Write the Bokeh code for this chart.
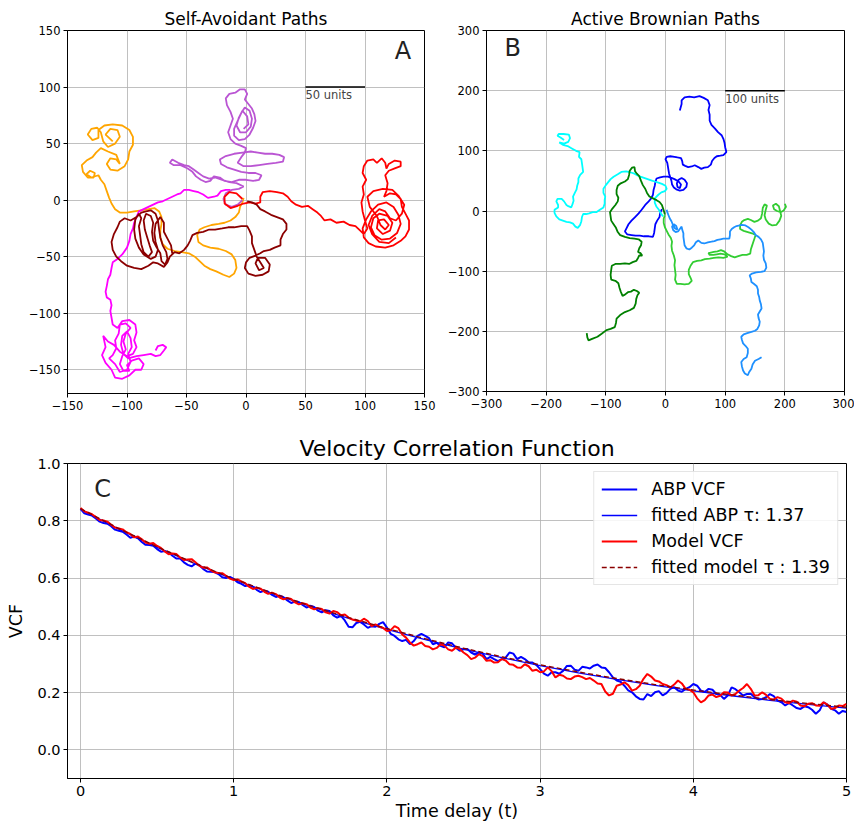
import numpy as np
from bokeh.plotting import figure
from bokeh.layouts import column, row
from bokeh.models import Label, Range1d, FixedTicker, Legend, LegendItem, CustomJSTickFormatter
from bokeh.embed import file_html
from bokeh.resources import INLINE

# ---------------- Panel A: Self-Avoidant Paths ----------------
SA_ORANGE = [(-112,52),(-118,58),(-114,63),(-108,62),(-106,56),(-110,50),(-116,47),(-120,52),(-122,60),(-125,64),(-130,63),(-133,58),(-129,53),(-124,55),(-124,62),(-119,66),(-112,67),(-104,66),(-98,62),(-95,56),(-95,49),(-98,43),(-99,36),(-102,30),(-108,26),(-114,27),(-117,32),(-114,37),(-109,36),(-106,32),(-109,40),(-116,43),(-122,46),(-126,42),(-129,38),(-134,35),(-138,31),(-137,25),(-133,20),(-128,20),(-127,24),(-131,26),(-134,23),(-130,20),(-124,22),(-122,18),(-119,14),(-117,8),(-115,2),(-113,-3),(-110,-8),(-106,-11),(-100,-11),(-94,-10),(-88,-9),(-82,-8),(-77,-7),(-73,-10),(-71,-15),(-71,-21),(-72,-27),(-72,-33),(-70,-39),(-66,-43),(-60,-45),(-54,-46),(-48,-47),(-43,-50),(-39,-54),(-35,-58),(-30,-61),(-25,-63),(-19,-66),(-14,-68),(-10,-65),(-8,-60),(-9,-53),(-12,-48),(-17,-45),(-23,-43),(-30,-42),(-36,-40),(-40,-37),(-41,-31),(-39,-26),(-35,-24),(-29,-22),(-23,-21),(-18,-20),(-13,-18),(-9,-15),(-6,-11),(-5,-6),(-3,-2),(-2,2)]
SA_MAGENTA = [(-13,9),(-17,9),(-21,8),(-24,4),(-27,3),(-32,2),(-36,5),(-40,7),(-44,8),(-48,9),(-52,9),(-55,6),(-58,5),(-62,3),(-66,1),(-70,-1),(-74,-2),(-78,-4),(-82,-6),(-86,-8),(-90,-10),(-92,-15),(-94,-20),(-95,-25),(-97,-30),(-98,-36),(-100,-42),(-104,-48),(-108,-52),(-112,-55),(-113,-60),(-114,-66),(-116,-70),(-117,-76),(-118,-81),(-117,-86),(-114,-88),(-113,-93),(-114,-98),(-113,-104),(-112,-110),(-108,-113),(-104,-107),(-98,-106),(-93,-110),(-92,-117),(-94,-124),(-92,-130),(-95,-136),(-100,-138),(-106,-134),(-111,-128),(-116,-125),(-120,-120),(-118,-130),(-121,-137),(-118,-144),(-113,-150),(-110,-157),(-104,-158),(-98,-155),(-93,-150),(-88,-150),(-86,-145),(-90,-140),(-96,-142),(-100,-146),(-98,-151),(-103,-151),(-106,-145),(-104,-138),(-101,-132),(-103,-125),(-101,-118),(-97,-113),(-101,-109),(-106,-110),(-107,-118),(-110,-124),(-109,-131),(-112,-137),(-115,-140),(-110,-145),(-106,-152),(-100,-150),(-97,-143),(-99,-136),(-96,-130),(-97,-122),(-100,-116),(-104,-120),(-105,-128),(-103,-136),(-99,-140),(-92,-138),(-86,-137),(-80,-136),(-76,-138),(-72,-137),(-69,-133),(-67,-130),(-70,-128),(-74,-129),(-76,-133)]
SA_ORCHID = [(-3,0),(-7,-4),(-12,-6),(-17,-4),(-19,1),(-17,6),(-12,9),(-6,10),(-2,12),(-8,15),(-14,16),(-20,18),(-26,20),(-31,19),(-36,21),(-40,24),(-44,27),(-48,30),(-52,31),(-57,33),(-62,36),(-64,33),(-61,31),(-55,31),(-49,28),(-45,25),(-42,21),(-38,18),(-34,16),(-30,17),(-27,21),(-22,20),(-18,17),(-12,16),(-6,18),(0,18),(6,17),(11,18),(13,22),(8,24),(2,24),(-4,25),(-10,27),(-16,29),(-21,32),(-22,36),(-17,39),(-10,41),(-3,42),(4,43),(10,42),(16,41),(22,41),(28,40),(32,38),(31,34),(25,33),(18,32),(11,31),(4,30),(-2,30),(-7,33),(-4,38),(-1,42),(0,46),(-4,48),(-9,50),(-13,54),(-15,60),(-13,66),(-11,72),(-13,78),(-16,84),(-17,90),(-14,94),(-9,95),(-5,98),(-1,98),(1,94),(-1,89),(2,85),(5,81),(7,76),(8,70),(6,64),(3,58),(-1,54),(-6,53),(-10,57),(-10,63),(-7,70),(-4,77),(-1,82),(3,79),(5,72),(4,65),(0,60),(-5,60),(-8,66),(-6,73),(-3,79),(1,74),(2,67),(-2,63)]
SA_RED = [(-3,1),(-8,6),(-14,7),(-18,3),(-18,-3),(-13,-7),(-7,-5),(-2,-3),(3,-2),(8,-3),(12,-2),(12,3),(14,7),(20,8),(26,7),(31,6),(35,3),(38,-1),(42,-4),(47,-6),(52,-5),(56,-8),(60,-11),(63,-14),(66,-18),(71,-17),(76,-20),(82,-19),(87,-22),(92,-23),(96,-27),(99,-30),(102,-25),(100,-18),(98,-10),(97,-2),(99,5),(98,12),(101,18),(98,24),(99,30),(102,35),(107,36),(110,33),(114,37),(117,33),(118,28),(120,32),(125,35),(130,34),(130,30),(125,28),(120,26),(117,22),(119,15),(118,8),(116,3),(121,6),(126,5),(130,1),(131,-6),(134,-12),(137,-18),(137,-26),(134,-32),(130,-36),(124,-40),(117,-42),(109,-41),(103,-38),(99,-33),(98,-25),(101,-17),(105,-10),(111,-4),(118,-2),(124,-6),(128,-13),(130,-21),(127,-29),(121,-34),(114,-35),(108,-31),(105,-24),(107,-16),(112,-12),(119,-14),(123,-20),(121,-27),(115,-30),(110,-25),(111,-18),(116,-17),(120,-22),(117,-26),(113,-22),(110,-14),(104,-6),(102,3),(107,8),(115,10),(123,9),(128,4),(133,-4),(131,-12),(126,-18),(121,-16),(117,-10),(112,-8),(106,-14),(103,-22),(106,-30),(112,-37),(120,-38),(126,-33)]
SA_DARKRED = [(1,-1),(5,-2),(9,-4),(12,-8),(16,-10),(21,-13),(26,-15),(31,-17),(34,-21),(34,-26),(31,-30),(29,-35),(29,-40),(24,-42),(20,-44),(15,-45),(12,-47),(8,-49),(3,-51),(0,-55),(-1,-60),(2,-65),(8,-67),(14,-66),(19,-63),(20,-57),(16,-51),(10,-51),(8,-56),(11,-62),(15,-60),(12,-55),(9,-50),(7,-44),(5,-38),(5,-32),(3,-27),(1,-23),(-4,-23),(-10,-24),(-15,-24),(-20,-25),(-26,-26),(-31,-26),(-36,-28),(-41,-29),(-45,-31),(-47,-36),(-49,-40),(-52,-44),(-56,-47),(-60,-46),(-64,-50),(-66,-55),(-69,-59),(-74,-56),(-78,-55),(-82,-58),(-88,-61),(-94,-60),(-100,-58),(-105,-54),(-109,-50),(-112,-44),(-113,-37),(-111,-30),(-108,-24),(-106,-19),(-102,-16),(-97,-18),(-92,-15),(-88,-11),(-84,-10),(-80,-9),(-76,-12),(-74,-18),(-73,-26),(-72,-33),(-70,-40),(-67,-46),(-66,-52),(-68,-57),(-71,-54),(-72,-47),(-75,-42),(-78,-36),(-79,-28),(-78,-20),(-80,-14),(-84,-12),(-86,-18),(-85,-26),(-83,-33),(-81,-40),(-79,-46),(-82,-50),(-86,-46),(-88,-39),(-89,-31),(-90,-23),(-88,-16),(-90,-12),(-93,-17),(-94,-26),(-93,-34),(-90,-42),(-86,-48),(-80,-52),(-76,-50),(-74,-44),(-76,-37),(-77,-29),(-76,-21),(-72,-15),(-69,-20),(-69,-28),(-66,-34),(-63,-40),(-62,-47)]
SA_PATHS = [(SA_ORANGE, "orange"), (SA_MAGENTA, "magenta"), (SA_ORCHID, "mediumorchid"),
            (SA_RED, "red"), (SA_DARKRED, "darkred")]
SA_TICKS = [-150, -100, -50, 0, 50, 100, 150]
SA_SCALE_X = [50, 100]
SA_SCALE_Y = [100, 100]

# ---------------- Panel B: Active Brownian Paths ----------------
AB_BLUE = [(24,167),(27,178),(27,184),(32,189),(40,190),(48,189),(57,191),(64,188),(71,184),(74,176),(72,168),(74,160),(74,150),(77,143),(83,137),(88,131),(94,126),(97,120),(99,113),(100,106),(102,98),(97,93),(92,92),(86,91),(82,88),(78,83),(76,77),(71,73),(65,72),(60,70),(55,73),(49,76),(44,74),(38,73),(33,75),(29,77),(28,83),(26,88),(20,89),(15,90),(8,91),(2,90),(0,86),(3,80),(4,74),(5,68),(6,62),(8,56),(10,50),(11,44),(14,39),(18,36),(24,34),(30,35),(35,40),(36,46),(32,52),(27,55),(22,52),(19,46),(20,40),(24,38),(26,44),(22,49),(15,53),(10,55),(4,57),(-3,57),(-9,56),(-15,54),(-17,48),(-18,42),(-20,35),(-21,27),(-24,21),(-29,15),(-34,10),(-40,2),(-45,-4),(-51,-10),(-57,-16),(-62,-22),(-65,-28),(-68,-34),(-64,-39),(-57,-40),(-50,-41),(-43,-41),(-36,-42),(-28,-42),(-21,-43),(-19,-36),(-18,-29),(-17,-22),(-14,-16),(-10,-10),(-9,-3),(-6,3)]
AB_CYAN = [(-170,118),(-176,122),(-181,125),(-179,128),(-171,128),(-162,127),(-160,121),(-163,115),(-170,112),(-178,114),(-172,110),(-164,108),(-157,104),(-150,100),(-144,98),(-145,90),(-141,86),(-140,79),(-139,72),(-138,65),(-143,60),(-146,54),(-146,48),(-148,42),(-149,36),(-152,30),(-155,24),(-154,17),(-156,11),(-158,6),(-163,8),(-166,10),(-170,16),(-174,20),(-181,20),(-183,16),(-180,10),(-180,6),(-186,2),(-186,-3),(-183,-9),(-178,-14),(-172,-16),(-166,-18),(-160,-19),(-155,-21),(-151,-26),(-147,-28),(-143,-23),(-141,-17),(-140,-10),(-138,-5),(-133,-5),(-128,-4),(-122,-2),(-116,-2),(-110,2),(-104,6),(-102,12),(-102,18),(-101,24),(-104,30),(-104,37),(-100,43),(-96,48),(-92,53),(-87,57),(-80,61),(-74,65),(-66,66),(-58,64),(-52,62),(-47,59),(-42,57),(-36,55),(-30,53),(-24,51),(-18,49),(-12,47),(-6,45),(0,42),(2,37),(-1,33),(-7,31),(-12,27),(-18,21),(-18,14),(-15,7),(-11,2),(-8,-4),(-4,-9)]
AB_GREEN = [(-132,-203),(-131,-210),(-129,-215),(-122,-212),(-114,-209),(-107,-204),(-99,-198),(-92,-196),(-85,-193),(-83,-186),(-82,-179),(-76,-173),(-68,-168),(-60,-165),(-53,-161),(-50,-154),(-49,-146),(-47,-140),(-44,-136),(-48,-133),(-53,-131),(-58,-134),(-63,-135),(-68,-139),(-72,-141),(-75,-134),(-77,-128),(-79,-120),(-84,-116),(-91,-114),(-92,-106),(-91,-98),(-90,-91),(-84,-88),(-76,-88),(-68,-87),(-61,-88),(-55,-85),(-49,-83),(-46,-78),(-44,-74),(-39,-74),(-42,-70),(-46,-68),(-44,-62),(-41,-57),(-40,-51),(-45,-47),(-52,-46),(-60,-45),(-68,-43),(-76,-40),(-80,-35),(-83,-28),(-87,-22),(-91,-16),(-92,-9),(-93,-2),(-89,4),(-84,10),(-80,16),(-79,22),(-82,28),(-82,35),(-80,42),(-75,46),(-68,49),(-63,53),(-61,60),(-60,67),(-56,72),(-52,73),(-51,66),(-48,62),(-44,58),(-41,50),(-38,43),(-34,37),(-31,30),(-27,24),(-21,21),(-15,18),(-10,15),(-6,10),(-4,4),(-2,-2),(-1,-6)]
AB_LIME = [(200,12),(202,7),(198,1),(193,-2),(187,0),(182,3),(180,9),(185,12),(190,8),(192,0),(194,-8),(191,-16),(186,-23),(179,-24),(173,-21),(168,-14),(166,-7),(168,2),(170,9),(166,11),(163,5),(162,-4),(160,-12),(155,-16),(149,-18),(143,-15),(138,-13),(132,-15),(128,-18),(125,-24),(125,-30),(131,-33),(138,-35),(145,-37),(151,-40),(149,-46),(147,-52),(145,-58),(143,-64),(142,-71),(136,-73),(129,-73),(122,-75),(116,-77),(110,-75),(104,-72),(98,-67),(93,-65),(87,-67),(81,-68),(76,-69),(72,-70),(74,-73),(80,-73),(86,-72),(92,-71),(99,-72),(104,-76),(97,-78),(89,-77),(81,-78),(74,-79),(66,-80),(60,-82),(53,-83),(46,-85),(42,-91),(39,-98),(39,-105),(42,-111),(44,-116),(39,-121),(32,-122),(25,-121),(19,-121),(16,-114),(17,-106),(16,-98),(15,-90),(16,-82),(14,-74),(11,-66),(10,-58),(11,-51),(9,-45),(5,-39),(2,-33),(-1,-27),(-3,-20),(-3,-13),(-1,-7)]
AB_DODGER = [(161,-243),(156,-246),(150,-249),(146,-255),(144,-262),(140,-268),(138,-273),(133,-270),(130,-265),(128,-258),(127,-251),(131,-246),(136,-243),(138,-236),(138,-229),(134,-224),(130,-220),(128,-214),(127,-209),(131,-205),(137,-203),(144,-201),(150,-199),(154,-196),(157,-190),(158,-184),(156,-178),(155,-172),(158,-167),(161,-162),(160,-155),(158,-149),(157,-143),(155,-137),(155,-131),(153,-125),(148,-121),(144,-118),(143,-112),(141,-107),(145,-104),(152,-102),(160,-101),(166,-100),(169,-94),(168,-87),(165,-81),(164,-74),(165,-67),(164,-60),(163,-53),(160,-47),(156,-43),(151,-40),(148,-35),(144,-31),(139,-27),(134,-24),(128,-23),(124,-24),(119,-25),(115,-27),(111,-30),(108,-34),(108,-40),(107,-46),(102,-46),(97,-46),(92,-47),(87,-48),(82,-50),(77,-51),(71,-52),(65,-54),(60,-53),(55,-49),(51,-52),(48,-57),(44,-61),(40,-64),(35,-62),(32,-57),(31,-50),(30,-43),(30,-37),(28,-31),(27,-26),(24,-30),(21,-34),(17,-35),(13,-32),(11,-26),(14,-22),(18,-25),(20,-31),(16,-29),(12,-22),(10,-17),(7,-12),(5,-7),(3,-2),(2,2)]
AB_PATHS = [(AB_BLUE, "blue"), (AB_CYAN, "cyan"), (AB_GREEN, "green"),
            (AB_LIME, "limegreen"), (AB_DODGER, "dodgerblue")]
AB_TICKS = [-300, -200, -100, 0, 100, 200, 300]
AB_SCALE_X = [100, 200]
AB_SCALE_Y = [200, 200]

# ---------------- Panel C: Velocity Correlation Function ----------------
VCF_T = np.linspace(0, 5, 201)
ABP_VCF = [0.842,0.826,0.822,0.818,0.808,0.797,0.792,0.790,0.781,0.769,0.765,0.762,0.752,0.741,0.745,0.739,0.726,0.716,0.715,0.713,
           0.701,0.692,0.694,0.690,0.678,0.668,0.668,0.655,0.646,0.641,0.650,0.645,0.632,0.623,0.622,0.621,0.614,0.603,0.600,0.604,
           0.597,0.585,0.580,0.572,0.575,0.570,0.559,0.551,0.556,0.552,0.541,0.534,0.538,0.533,0.522,0.513,0.518,0.516,0.506,0.497,
           0.503,0.499,0.486,0.480,0.488,0.485,0.470,0.462,0.468,0.452,0.430,0.428,0.443,0.447,0.438,0.426,0.432,0.430,0.440,0.446,
           0.427,0.405,0.398,0.386,0.380,0.384,0.369,0.380,0.398,0.405,0.398,0.390,0.369,0.374,0.363,0.358,0.375,0.372,0.357,0.346,
           0.351,0.352,0.340,0.333,0.340,0.336,0.317,0.325,0.317,0.310,0.317,0.322,0.340,0.336,0.317,0.325,0.317,0.306,0.305,0.297,
           0.282,0.266,0.259,0.271,0.271,0.266,0.276,0.293,0.294,0.280,0.276,0.290,0.288,0.284,0.294,0.298,0.288,0.286,0.271,0.253,
           0.242,0.238,0.224,0.208,0.201,0.187,0.178,0.176,0.195,0.188,0.201,0.205,0.190,0.198,0.213,0.219,0.207,0.203,0.213,0.219,
           0.230,0.224,0.207,0.202,0.213,0.210,0.195,0.192,0.178,0.190,0.218,0.212,0.201,0.190,0.195,0.196,0.184,0.176,0.178,0.184,
           0.195,0.188,0.172,0.166,0.155,0.164,0.155,0.146,0.143,0.152,0.149,0.140,0.126,0.138,0.166,0.158,0.143,0.138,0.126,0.136,
           0.132]
MODEL_VCF = [0.845,0.833,0.828,0.823,0.813,0.803,0.801,0.797,0.786,0.776,0.773,0.770,0.760,0.754,0.742,0.745,0.735,0.724,0.720,0.722,
             0.712,0.705,0.693,0.683,0.686,0.684,0.672,0.663,0.665,0.666,0.655,0.643,0.636,0.637,0.628,0.620,0.618,0.617,0.608,0.598,
             0.593,0.595,0.588,0.582,0.570,0.562,0.566,0.563,0.552,0.545,0.549,0.544,0.532,0.526,0.530,0.527,0.515,0.508,0.512,0.509,
             0.497,0.491,0.495,0.492,0.480,0.476,0.485,0.481,0.470,0.473,0.462,0.455,0.452,0.448,0.458,0.450,0.432,0.438,0.430,0.426,
             0.415,0.418,0.432,0.425,0.403,0.392,0.375,0.364,0.369,0.375,0.363,0.360,0.351,0.356,0.369,0.364,0.351,0.346,0.357,0.352,
             0.340,0.331,0.317,0.322,0.334,0.327,0.311,0.313,0.305,0.306,0.317,0.312,0.299,0.297,0.288,0.287,0.299,0.292,0.276,0.280,
             0.271,0.274,0.288,0.275,0.253,0.262,0.259,0.249,0.247,0.256,0.259,0.254,0.247,0.251,0.242,0.232,0.230,0.204,0.190,0.196,
             0.224,0.228,0.236,0.226,0.207,0.212,0.224,0.248,0.265,0.256,0.242,0.239,0.230,0.226,0.218,0.228,0.242,0.232,0.213,0.210,
             0.201,0.180,0.166,0.174,0.190,0.193,0.184,0.189,0.201,0.200,0.190,0.195,0.207,0.216,0.230,0.213,0.190,0.191,0.201,0.192,
             0.178,0.176,0.184,0.179,0.166,0.163,0.172,0.168,0.155,0.152,0.161,0.163,0.155,0.154,0.166,0.158,0.143,0.146,0.155,0.153,
             0.161]
FIT_T = [0, 0.25, 0.5, 0.75, 1, 1.25, 1.5, 1.75, 2, 2.25, 2.5, 2.75, 3, 3.25, 3.5, 3.75, 4, 4.25, 4.5, 4.75, 5]
ABP_FIT = [0.840,0.771,0.707,0.649,0.595,0.546,0.501,0.459,0.421,0.385,0.352,0.322,0.294,0.269,0.246,0.225,0.206,0.189,0.173,0.159,0.146]
MODEL_FIT = [0.842,0.773,0.709,0.651,0.597,0.548,0.503,0.462,0.424,0.388,0.355,0.325,0.297,0.272,0.249,0.228,0.209,0.192,0.176,0.162,0.149]
C_XTICKS = [0, 1, 2, 3, 4, 5]
C_YTICKS = [0.0, 0.2, 0.4, 0.6, 0.8, 1.0]
LABELS = ["ABP VCF", "fitted ABP \u03c4: 1.37", "Model VCF", "fitted model \u03c4 : 1.39"]

FONT = "DejaVu Sans"
MINUS = CustomJSTickFormatter(code="return String(tick).replace('-', '\u2212');")


def style(p, tick_size, title_size, standoff):
    p.title.text_font = FONT
    p.title.text_font_size = title_size
    p.title.text_font_style = "normal"
    p.title.text_color = "black"
    p.title.align = "center"
    p.title.standoff = standoff
    p.background_fill_color = "white"
    p.border_fill_color = "white"
    p.outline_line_color = "black"
    p.outline_line_alpha = 1
    p.outline_line_width = 1
    for g in (p.xgrid, p.ygrid):
        g.grid_line_color = "#b0b0b0"
        g.grid_line_width = 0.8
    for ax in p.axis:
        ax.major_label_text_font = FONT
        ax.major_label_text_font_size = tick_size
        ax.major_label_text_color = "black"
        ax.major_tick_out = 4
        ax.major_tick_in = 0
        ax.minor_tick_out = 0
        ax.minor_tick_in = 0
        ax.axis_line_color = "black"
        ax.major_tick_line_color = "black"
        ax.major_label_standoff = 3
        ax.axis_label_text_font = FONT
        ax.axis_label_text_font_style = "normal"
        ax.axis_label_text_color = "black"


# Panel A
pA = figure(frame_width=357, frame_height=363, min_border_left=67, min_border_right=20,
            min_border_top=30, min_border_bottom=20, title="Self-Avoidant Paths",
            x_range=Range1d(-150, 150), y_range=Range1d(-171, 150),
            output_backend="svg", toolbar_location=None)
style(pA, "11.5px", "17px", 4)
for path, col in SA_PATHS:
    xs, ys = zip(*path)
    pA.line(list(xs), list(ys), line_color=col, line_width=1.8)
pA.xaxis.ticker = FixedTicker(ticks=SA_TICKS)
pA.yaxis.ticker = FixedTicker(ticks=SA_TICKS)
pA.xaxis.formatter = MINUS
pA.yaxis.formatter = MINUS
pA.line(SA_SCALE_X, SA_SCALE_Y, line_color="black", line_width=1.5)
pA.add_layout(Label(x=SA_SCALE_X[0], y=SA_SCALE_Y[0], text="50 units", text_font=FONT,
                    text_font_size="11.5px", text_baseline="top", y_offset=-1, x_offset=0))
pA.add_layout(Label(x=132, y=132, text="A", text_font=FONT, text_font_size="24px",
                    text_align="center", text_baseline="middle", text_color="#222222"))

# Panel B
pB = figure(frame_width=358, frame_height=361, min_border_left=37, min_border_right=10,
            min_border_top=30, min_border_bottom=22, title="Active Brownian Paths",
            x_range=Range1d(-300, 300), y_range=Range1d(-300, 300),
            output_backend="svg", toolbar_location=None)
style(pB, "11.5px", "17px", 4)
for path, col in AB_PATHS:
    xs, ys = zip(*path)
    pB.line(list(xs), list(ys), line_color=col, line_width=1.8)
pB.xaxis.ticker = FixedTicker(ticks=AB_TICKS)
pB.yaxis.ticker = FixedTicker(ticks=AB_TICKS)
pB.xaxis.formatter = MINUS
pB.yaxis.formatter = MINUS
pB.line(AB_SCALE_X, AB_SCALE_Y, line_color="black", line_width=1.5)
pB.add_layout(Label(x=AB_SCALE_X[0], y=AB_SCALE_Y[0], text="100 units", text_font=FONT,
                    text_font_size="11.5px", text_baseline="top", y_offset=-1, x_offset=0))
pB.add_layout(Label(x=-256, y=271, text="B", text_font=FONT, text_font_size="24px",
                    text_align="center", text_baseline="middle", text_color="#222222"))

# Panel C
pC = figure(frame_width=779, frame_height=315, min_border_left=67, min_border_right=6,
            min_border_top=50, min_border_bottom=42, title="Velocity Correlation Function",
            x_range=Range1d(-0.085, 5.0), y_range=Range1d(-0.1, 1.0),
            output_backend="svg", toolbar_location=None)
style(pC, "14.5px", "22px", 5)
r1 = pC.line(VCF_T, ABP_VCF, line_color="blue", line_width=2)
r2 = pC.line(FIT_T, ABP_FIT, line_color="blue", line_width=1.3)
r3 = pC.line(VCF_T, MODEL_VCF, line_color="red", line_width=2)
r4 = pC.line(FIT_T, MODEL_FIT, line_color="darkred", line_width=1.4, line_dash="5 3")
pC.xaxis.ticker = FixedTicker(ticks=C_XTICKS)
pC.yaxis.ticker = FixedTicker(ticks=C_YTICKS)
pC.yaxis.formatter = CustomJSTickFormatter(code="return tick.toFixed(1);")
pC.xaxis.axis_label = "Time delay (t)"
pC.yaxis.axis_label = "VCF"
pC.xaxis.axis_label_text_font_size = "17.5px"
pC.yaxis.axis_label_text_font_size = "17.5px"
pC.xaxis.axis_label_standoff = 2
pC.yaxis.axis_label_standoff = 8
legend = Legend(items=[LegendItem(label=LABELS[0], renderers=[r1]),
                       LegendItem(label=LABELS[1], renderers=[r2]),
                       LegendItem(label=LABELS[2], renderers=[r3]),
                       LegendItem(label=LABELS[3], renderers=[r4])],
                location="top_right")
legend.label_text_font = FONT
legend.label_text_font_size = "17.5px"
legend.label_text_color = "black"
legend.glyph_width = 36
legend.label_standoff = 14
legend.label_height = 20
legend.spacing = 6
legend.padding = 7
legend.margin = 8
legend.border_line_color = "#cccccc"
legend.background_fill_alpha = 0.85
pC.add_layout(legend)
pC.add_layout(Label(x=0.144, y=0.91, text="C", text_font=FONT, text_font_size="24px",
                    text_align="center", text_baseline="middle", text_color="#222222"))

layout = column(row(pA, pB), pC)
open("out.html", "w").write(file_html(layout, INLINE))
